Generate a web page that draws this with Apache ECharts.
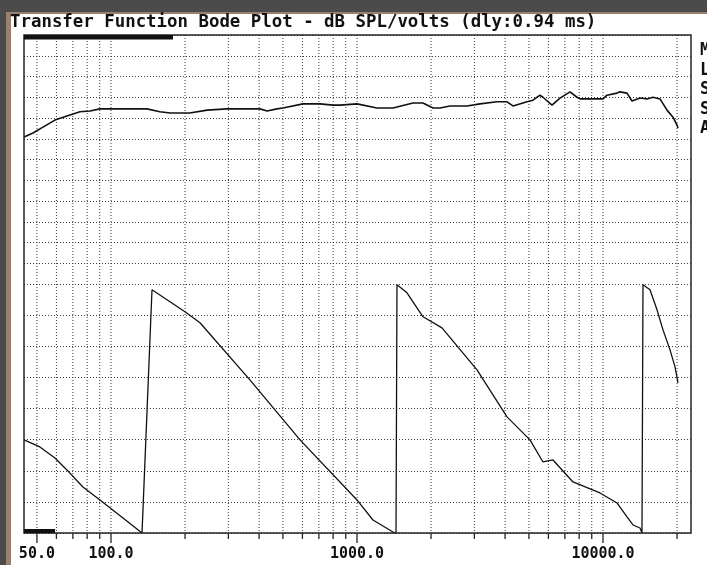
<!DOCTYPE html>
<html>
<head>
<meta charset="utf-8">
<script src="https://cdn.jsdelivr.net/npm/echarts@6/dist/echarts.min.js"></script>
<style>
html,body{margin:0;padding:0;background:#4b4b4b;}
#chart{width:707px;height:565px;}
</style>
</head>
<body>
<div id="chart"></div>
<script>
// ---- data (Hz, dB SPL/volt, degrees) ----
const magFreq = [44.3,48.2,52.9,59.2,66.2,74.8,82.2,90.2,99,140,158,174,209,246,296,403,431,473,500,603,707,799,853,1000,1206,1401,1689,1855,2037,2175,2388,2801,3162,3709,4072,4307,4911,5193,5544,5702,6204,6688,7343,7841,8064,9106,10000,10382,11400,11723,12518,13122,14140,15100,15970,17050,18205,19255,19990,20180];
const magDb   = [75.4,76.4,77.8,79.5,80.5,81.5,81.7,82.2,82.2,82.2,81.5,81.2,81.2,81.9,82.2,82.2,81.7,82.2,82.4,83.4,83.4,83.1,83.1,83.4,82.4,82.4,83.6,83.6,82.4,82.4,82.9,82.9,83.4,83.9,83.9,82.9,83.9,84.3,85.5,85.0,83.1,84.8,86.3,85.0,84.6,84.6,84.6,85.5,86.0,86.3,86.0,84.1,84.8,84.6,85.0,84.6,81.9,80.2,78.3,77.6];

const phaseFreq = [44.3,51.4,59.2,66.2,76.9,90.2,111.9,133.7,146.8,173.7,199.9,230,367,586.7,1000,1161,1401,1441,1454,1597,1855,2216,3075,4072,5050,5702,6262,7551,9723,11400,12518,13243,14140,14404,14541,15524,16579,17536,18726,19623,20180];
const phaseDeg  = [-45.4,-55.6,-71.5,-88.8,-113.4,-132.2,-158.3,-180,171.6,154.3,139.8,123.9,41.4,-45.4,-132.2,-161.2,-178.6,-180,178.9,167.3,132.6,116.6,55.9,-12.1,-45.4,-77.3,-74.4,-106.2,-122.1,-136.6,-156.8,-168.4,-172.8,-180,178.9,171.6,142.7,113.7,84.8,60.2,37.0];

const gridFreqs = [50,60,70,80,90,100,200,300,400,500,600,700,800,900,1000,2000,3000,4000,5000,6000,7000,8000,9000,10000,20000];
const majorFreqs = [50,100,1000,10000];
const tickLabels = ['50.0','100.0','1000.0','10000.0'];
const sideLetters = ['M','L','S','S','A'];
const titleText = 'Transfer Function Bode Plot - dB SPL/volts (dly:0.94 ms)';

const FREQ_MIN = 44.3, FREQ_MAX = 22790;
const MAG_MIN = 40, MAG_MAX = 100, MAG_STEP = 5;
const PH_MIN = -180, PH_MAX = 180, PH_STEP = 45;

const MONO = '"DejaVu Sans Mono", "Liberation Mono", monospace';
const dotted = [1, 2];

const chart = echarts.init(document.getElementById('chart'), null, {renderer: 'canvas'});

function vLines(yTop, yBot, withTicks) {
  return function (params, api) {
    const f = api.value(0);
    const p1 = api.coord([f, yTop]);
    const p2 = api.coord([f, yBot]);
    const children = [{
      type: 'line',
      shape: {x1: p1[0], y1: p1[1], x2: p2[0], y2: p2[1]},
      style: {stroke: '#3a3a3a', lineWidth: 1, lineDash: dotted}
    }];
    if (withTicks) {
      const len = majorFreqs.indexOf(f) >= 0 ? 10 : 6;
      children.push({
        type: 'line',
        shape: {x1: p2[0], y1: p2[1], x2: p2[0], y2: p2[1] + len},
        style: {stroke: '#222', lineWidth: 1.3}
      });
    }
    return {type: 'group', children: children};
  };
}

const yAxisCommon = {
  axisLine: {show: false}, axisTick: {show: false}, axisLabel: {show: false},
  splitLine: {show: true, lineStyle: {color: '#3a3a3a', width: 1, type: dotted}}
};
const xAxisCommon = {
  type: 'log', logBase: 10, min: FREQ_MIN, max: FREQ_MAX,
  axisLine: {show: false}, axisTick: {show: false}, axisLabel: {show: false},
  splitLine: {show: false}, minorTick: {show: false}
};

const option = {
  animation: false,
  backgroundColor: '#4b4b4b',
  title: {
    text: titleText, left: 10, top: 14, padding: 0,
    textStyle: {fontFamily: MONO, fontWeight: 'bold', fontSize: 17.4, color: '#111'}
  },
  grid: [
    {left: 24, width: 667, top: 35, height: 249},
    {left: 24, width: 667, top: 284, height: 249}
  ],
  xAxis: [
    Object.assign({gridIndex: 0}, xAxisCommon),
    Object.assign({gridIndex: 1}, xAxisCommon)
  ],
  yAxis: [
    Object.assign({gridIndex: 0, type: 'value', min: MAG_MIN, max: MAG_MAX, interval: MAG_STEP}, yAxisCommon),
    Object.assign({gridIndex: 1, type: 'value', min: PH_MIN, max: PH_MAX, interval: PH_STEP}, yAxisCommon)
  ],
  graphic: [
    {type: 'rect', z: -20, silent: true, shape: {x: 6, y: 12, width: 701, height: 553}, style: {fill: '#9a8070'}},
    {type: 'rect', z: -19, silent: true, shape: {x: 11, y: 14, width: 696, height: 551}, style: {fill: '#ffffff'}},
    {type: 'rect', z: 50, silent: true, shape: {x: 24, y: 35, width: 667, height: 498}, style: {fill: null, stroke: '#262626', lineWidth: 1.5}},
    {type: 'rect', z: 51, silent: true, shape: {x: 24, y: 35, width: 149, height: 4.5}, style: {fill: '#111'}},
    {type: 'rect', z: 51, silent: true, shape: {x: 24, y: 529, width: 31, height: 4}, style: {fill: '#111'}}
  ].concat(sideLetters.map(function (ch, i) {
    return {type: 'text', z: 51, silent: true, x: 700, y: 51 + i * 19.5,
      style: {text: ch, font: 'bold 17px ' + MONO, fill: '#111', verticalAlign: 'middle', align: 'left'}};
  })),
  series: [
    {
      type: 'custom', xAxisIndex: 0, yAxisIndex: 0, z: 1, silent: true,
      data: gridFreqs.map(function (f) { return [f, MAG_MIN]; }),
      encode: {x: 0, y: 1},
      renderItem: vLines(MAG_MAX, MAG_MIN, false)
    },
    {
      type: 'custom', xAxisIndex: 1, yAxisIndex: 1, z: 1, silent: true,
      data: gridFreqs.map(function (f) { return [f, PH_MIN]; }),
      encode: {x: 0, y: 1},
      renderItem: vLines(PH_MAX, PH_MIN, true)
    },
    {
      type: 'custom', xAxisIndex: 1, yAxisIndex: 1, z: 3, silent: true,
      data: majorFreqs.map(function (f) { return [f, PH_MIN]; }),
      encode: {x: 0, y: 1},
      renderItem: function (params, api) {
        const p = api.coord([api.value(0), PH_MIN]);
        return {
          type: 'text',
          style: {text: tickLabels[params.dataIndex], x: p[0], y: p[1] + 21,
            align: 'center', verticalAlign: 'middle',
            font: 'bold 15px ' + MONO, fill: '#111'}
        };
      }
    },
    {
      type: 'line', xAxisIndex: 0, yAxisIndex: 0, z: 5, showSymbol: false, silent: true,
      data: magFreq.map(function (f, i) { return [f, magDb[i]]; }),
      lineStyle: {color: '#111', width: 1.6}
    },
    {
      type: 'line', xAxisIndex: 1, yAxisIndex: 1, z: 5, showSymbol: false, silent: true,
      data: phaseFreq.map(function (f, i) { return [f, phaseDeg[i]]; }),
      lineStyle: {color: '#111', width: 1.3}
    }
  ]
};
chart.setOption(option);
</script>
</body>
</html>
